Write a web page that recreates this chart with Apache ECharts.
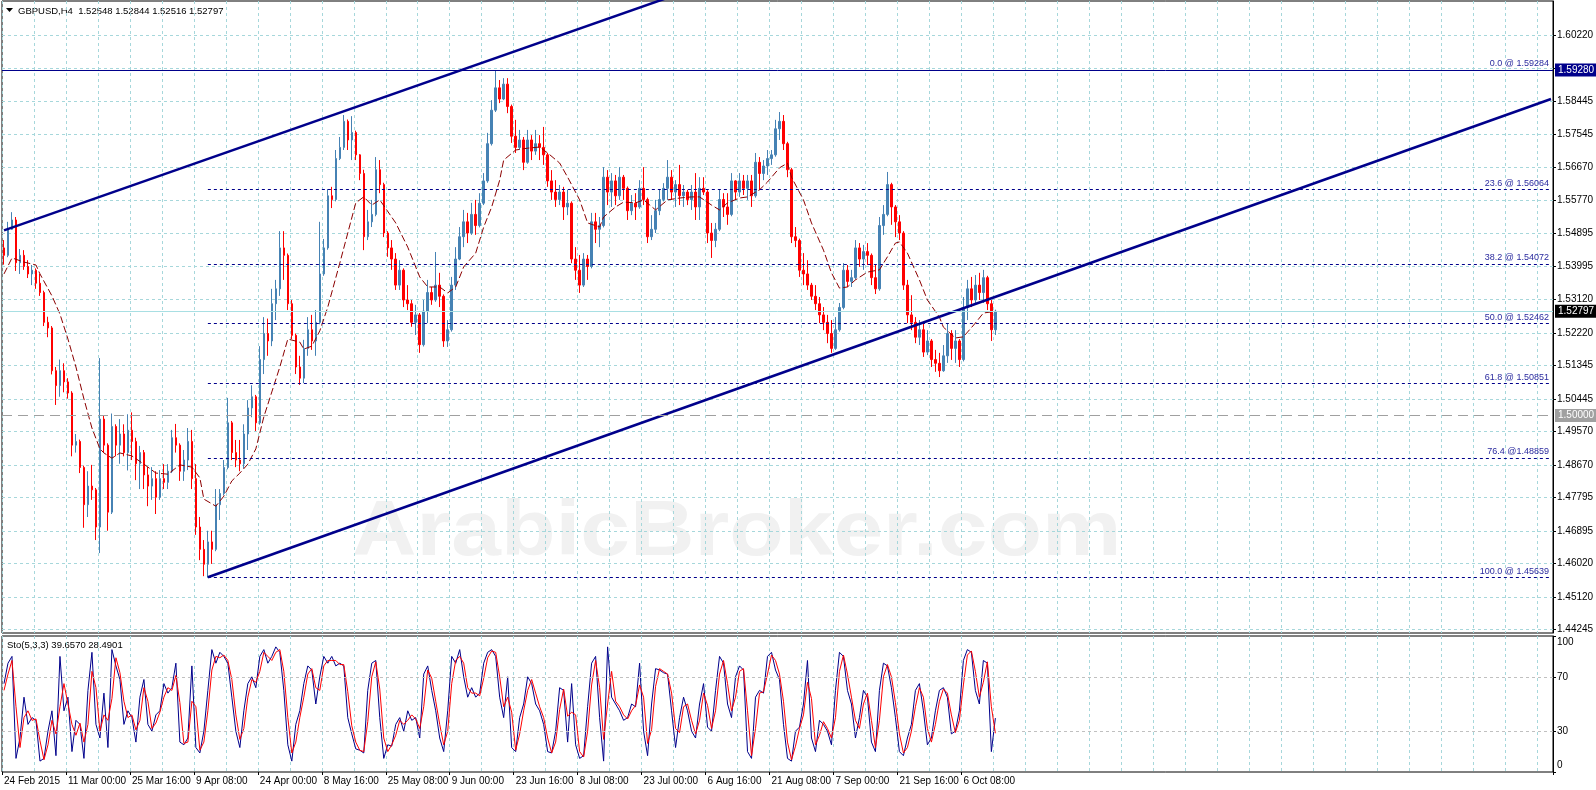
<!DOCTYPE html>
<html><head><meta charset="utf-8">
<script src="https://cdn.jsdelivr.net/npm/echarts@6/dist/echarts.min.js"></script>
<style>html,body{margin:0;padding:0;background:#fff}#c{width:1596px;height:790px}</style>
</head><body><div id="c"></div>
<script>
// ---- axis labels ----
const tickLabels = ['24 Feb 2015','11 Mar 00:00','25 Mar 16:00','9 Apr 08:00','24 Apr 00:00','8 May 16:00','25 May 08:00','9 Jun 00:00','23 Jun 16:00','8 Jul 08:00','23 Jul 00:00','6 Aug 16:00','21 Aug 08:00','7 Sep 00:00','21 Sep 16:00','6 Oct 08:00'];
const priceLabels = [1.60220,1.58445,1.57545,1.56670,1.55770,1.54895,1.53995,1.53120,1.52220,1.51345,1.50445,1.49570,1.48670,1.47795,1.46895,1.46020,1.45120,1.44245];
const priceGridExtra = [1.59320];
const stochLabels = [0,30,70,100];
const stochLevels = [30,70];

// ---- GBPUSD H4 (each point = 4 H4 bars) ----
const opens = [1.5450,1.5430,1.5500,1.5525,1.5410,1.5430,1.5400,1.5380,1.5390,1.5355,
1.5330,1.5250,1.5235,1.5120,1.5080,1.5120,1.5090,1.5060,1.4920,1.4930,
1.4860,1.4760,1.4810,1.4800,1.4700,1.4990,1.4920,1.4740,1.4970,1.4920,
1.4950,1.4900,1.4960,1.4930,1.4870,1.4900,1.4840,1.4810,1.4830,1.4780,
1.4830,1.4820,1.4850,1.4940,1.4920,1.4850,1.4880,1.4930,1.4830,1.4700,
1.4640,1.4600,1.4660,1.4640,1.4760,1.4790,1.4860,1.4980,1.4900,1.4880,
1.4870,1.4950,1.5020,1.5050,1.4980,1.5150,1.5220,1.5200,1.5300,1.5340,
1.5450,1.5430,1.5300,1.5215,1.5130,1.5100,1.5180,1.5230,1.5200,1.5250,
1.5380,1.5450,1.5590,1.5580,1.5690,1.5720,1.5790,1.5740,1.5760,1.5700,
1.5650,1.5480,1.5520,1.5540,1.5660,1.5620,1.5490,1.5450,1.5420,1.5350,
1.5390,1.5310,1.5300,1.5250,1.5270,1.5190,1.5280,1.5330,1.5310,1.5350,
1.5320,1.5200,1.5230,1.5350,1.5420,1.5480,1.5520,1.5490,1.5540,1.5510,
1.5570,1.5630,1.5730,1.5820,1.5880,1.5850,1.5890,1.5830,1.5750,1.5720,
1.5740,1.5680,1.5740,1.5710,1.5730,1.5720,1.5700,1.5630,1.5600,1.5580,
1.5600,1.5560,1.5570,1.5420,1.5390,1.5350,1.5420,1.5400,1.5520,1.5500,
1.5510,1.5640,1.5600,1.5630,1.5590,1.5640,1.5610,1.5550,1.5570,1.5560,
1.5610,1.5580,1.5480,1.5500,1.5550,1.5580,1.5610,1.5640,1.5600,1.5620,
1.5590,1.5600,1.5580,1.5600,1.5560,1.5610,1.5600,1.5490,1.5470,1.5500,
1.5580,1.5560,1.5540,1.5630,1.5600,1.5630,1.5610,1.5630,1.5590,1.5680,
1.5650,1.5670,1.5690,1.5700,1.5770,1.5790,1.5730,1.5660,1.5480,1.5470,
1.5390,1.5380,1.5350,1.5320,1.5300,1.5270,1.5250,1.5220,1.5180,1.5230,
1.5290,1.5390,1.5360,1.5370,1.5450,1.5420,1.5440,1.5430,1.5370,1.5340,
1.5510,1.5540,1.5620,1.5560,1.5520,1.5490,1.5350,1.5270,1.5250,1.5210,
1.5230,1.5170,1.5200,1.5150,1.5140,1.5120,1.5160,1.5220,1.5180,1.5200,
1.5150,1.5290,1.5340,1.5310,1.5350,1.5330,1.5370,1.5300,1.5230];
const highs = [1.5471,1.5520,1.5546,1.5533,1.5447,1.5444,1.5417,1.5404,1.5395,1.5380,
1.5335,1.5265,1.5240,1.5130,1.5150,1.5140,1.5100,1.5065,1.4950,1.4935,
1.4865,1.4850,1.4867,1.4805,1.5154,1.5000,1.4925,1.5005,1.4976,1.4990,
1.4976,1.5003,1.5008,1.4940,1.4918,1.4907,1.4861,1.4861,1.4850,1.4853,
1.4869,1.4869,1.4961,1.4977,1.4925,1.4907,1.4966,1.4961,1.4869,1.4727,
1.4665,1.4690,1.4690,1.4802,1.4802,1.4880,1.5047,1.4985,1.4934,1.4934,
1.4976,1.5041,1.5081,1.5055,1.5186,1.5264,1.5260,1.5340,1.5364,1.5495,
1.5495,1.5435,1.5310,1.5220,1.5160,1.5203,1.5264,1.5270,1.5283,1.5520,
1.5474,1.5608,1.5614,1.5713,1.5748,1.5807,1.5795,1.5804,1.5765,1.5702,
1.5660,1.5552,1.5579,1.5694,1.5686,1.5625,1.5495,1.5471,1.5436,1.5417,
1.5395,1.5350,1.5310,1.5297,1.5275,1.5310,1.5364,1.5345,1.5439,1.5383,
1.5325,1.5256,1.5372,1.5452,1.5506,1.5552,1.5544,1.5571,1.5579,1.5597,
1.5651,1.5759,1.5847,1.5928,1.5901,1.5906,1.5906,1.5835,1.5794,1.5767,
1.5748,1.5767,1.5753,1.5767,1.5753,1.5775,1.5705,1.5659,1.5632,1.5619,
1.5614,1.5606,1.5575,1.5452,1.5431,1.5436,1.5431,1.5544,1.5544,1.5533,
1.5667,1.5659,1.5651,1.5646,1.5667,1.5646,1.5615,1.5592,1.5597,1.5632,
1.5667,1.5585,1.5538,1.5579,1.5606,1.5624,1.5686,1.5659,1.5632,1.5673,
1.5619,1.5606,1.5619,1.5651,1.5640,1.5640,1.5605,1.5517,1.5517,1.5606,
1.5597,1.5597,1.5651,1.5632,1.5651,1.5646,1.5646,1.5646,1.5705,1.5694,
1.5686,1.5713,1.5713,1.5794,1.5815,1.5807,1.5735,1.5665,1.5506,1.5475,
1.5436,1.5417,1.5356,1.5350,1.5318,1.5291,1.5270,1.5256,1.5264,1.5302,
1.5409,1.5404,1.5391,1.5471,1.5463,1.5458,1.5463,1.5435,1.5404,1.5533,
1.5565,1.5654,1.5625,1.5565,1.5538,1.5495,1.5364,1.5323,1.5264,1.5256,
1.5248,1.5229,1.5205,1.5176,1.5168,1.5189,1.5248,1.5229,1.5229,1.5205,
1.5318,1.5364,1.5372,1.5377,1.5383,1.5391,1.5375,1.5310,1.5284];
const lows = [1.5405,1.5425,1.5498,1.5388,1.5380,1.5391,1.5369,1.5350,1.5340,1.5321,
1.5240,1.5210,1.5110,1.5028,1.5050,1.5062,1.5045,1.4890,1.4900,1.4845,
1.4698,1.4727,1.4773,1.4665,1.4630,1.4900,1.4690,1.4735,1.4890,1.4870,
1.4890,1.4852,1.4880,1.4826,1.4802,1.4802,1.4756,1.4773,1.4735,1.4773,
1.4802,1.4802,1.4845,1.4900,1.4824,1.4824,1.4853,1.4802,1.4679,1.4611,
1.4568,1.4564,1.4601,1.4635,1.4719,1.4785,1.4855,1.4880,1.4861,1.4850,
1.4858,1.4907,1.4995,1.4958,1.4975,1.5111,1.5160,1.5186,1.5256,1.5321,
1.5364,1.5283,1.5205,1.5111,1.5082,1.5087,1.5160,1.5176,1.5160,1.5245,
1.5375,1.5445,1.5557,1.5575,1.5686,1.5713,1.5713,1.5686,1.5686,1.5632,
1.5444,1.5471,1.5506,1.5535,1.5597,1.5479,1.5426,1.5391,1.5337,1.5337,
1.5291,1.5283,1.5238,1.5216,1.5168,1.5185,1.5248,1.5297,1.5305,1.5291,
1.5184,1.5184,1.5225,1.5337,1.5417,1.5452,1.5463,1.5485,1.5485,1.5505,
1.5565,1.5625,1.5725,1.5815,1.5839,1.5847,1.5812,1.5732,1.5705,1.5713,
1.5659,1.5676,1.5686,1.5700,1.5686,1.5673,1.5614,1.5579,1.5560,1.5565,
1.5525,1.5538,1.5409,1.5364,1.5329,1.5345,1.5364,1.5395,1.5463,1.5452,
1.5505,1.5565,1.5560,1.5565,1.5579,1.5579,1.5525,1.5538,1.5525,1.5555,
1.5565,1.5463,1.5471,1.5490,1.5538,1.5575,1.5579,1.5579,1.5560,1.5565,
1.5560,1.5565,1.5552,1.5525,1.5525,1.5592,1.5463,1.5423,1.5452,1.5495,
1.5533,1.5512,1.5535,1.5579,1.5587,1.5592,1.5579,1.5560,1.5585,1.5606,
1.5632,1.5646,1.5673,1.5695,1.5740,1.5713,1.5640,1.5463,1.5452,1.5372,
1.5350,1.5337,1.5310,1.5283,1.5248,1.5229,1.5194,1.5168,1.5176,1.5225,
1.5285,1.5345,1.5345,1.5365,1.5399,1.5391,1.5404,1.5350,1.5326,1.5335,
1.5485,1.5535,1.5512,1.5479,1.5471,1.5337,1.5248,1.5229,1.5194,1.5189,
1.5157,1.5162,1.5130,1.5117,1.5103,1.5117,1.5141,1.5149,1.5141,1.5130,
1.5145,1.5256,1.5291,1.5297,1.5310,1.5302,1.5283,1.5200,1.5216];
const closes = [1.5430,1.5500,1.5525,1.5410,1.5430,1.5400,1.5380,1.5390,1.5355,1.5330,
1.5250,1.5235,1.5120,1.5080,1.5120,1.5090,1.5060,1.4920,1.4930,1.4860,
1.4760,1.4810,1.4800,1.4700,1.4990,1.4920,1.4740,1.4970,1.4920,1.4950,
1.4900,1.4960,1.4930,1.4870,1.4900,1.4840,1.4810,1.4830,1.4780,1.4830,
1.4820,1.4850,1.4940,1.4920,1.4850,1.4880,1.4930,1.4830,1.4700,1.4640,
1.4600,1.4660,1.4640,1.4760,1.4790,1.4860,1.4980,1.4900,1.4880,1.4870,
1.4950,1.5020,1.5050,1.4980,1.5150,1.5220,1.5200,1.5300,1.5340,1.5450,
1.5430,1.5300,1.5215,1.5130,1.5100,1.5180,1.5230,1.5200,1.5250,1.5380,
1.5450,1.5590,1.5580,1.5690,1.5720,1.5790,1.5740,1.5760,1.5700,1.5650,
1.5480,1.5520,1.5540,1.5660,1.5620,1.5490,1.5450,1.5420,1.5350,1.5390,
1.5310,1.5300,1.5250,1.5270,1.5190,1.5280,1.5330,1.5310,1.5350,1.5320,
1.5200,1.5230,1.5350,1.5420,1.5480,1.5520,1.5490,1.5540,1.5510,1.5570,
1.5630,1.5730,1.5820,1.5880,1.5850,1.5890,1.5830,1.5750,1.5720,1.5740,
1.5680,1.5740,1.5710,1.5730,1.5720,1.5700,1.5630,1.5600,1.5580,1.5600,
1.5560,1.5570,1.5420,1.5390,1.5350,1.5420,1.5400,1.5520,1.5500,1.5510,
1.5640,1.5600,1.5630,1.5590,1.5640,1.5610,1.5550,1.5570,1.5560,1.5610,
1.5580,1.5480,1.5500,1.5550,1.5580,1.5610,1.5640,1.5600,1.5620,1.5590,
1.5600,1.5580,1.5600,1.5560,1.5610,1.5600,1.5490,1.5470,1.5500,1.5580,
1.5560,1.5540,1.5630,1.5600,1.5630,1.5610,1.5630,1.5590,1.5680,1.5650,
1.5670,1.5690,1.5700,1.5770,1.5790,1.5730,1.5660,1.5480,1.5470,1.5390,
1.5380,1.5350,1.5320,1.5300,1.5270,1.5250,1.5220,1.5180,1.5230,1.5290,
1.5390,1.5360,1.5370,1.5450,1.5420,1.5440,1.5430,1.5370,1.5340,1.5510,
1.5540,1.5620,1.5560,1.5520,1.5490,1.5350,1.5270,1.5250,1.5210,1.5230,
1.5170,1.5200,1.5150,1.5140,1.5120,1.5160,1.5220,1.5180,1.5200,1.5150,
1.5290,1.5340,1.5310,1.5350,1.5330,1.5370,1.5300,1.5230,1.52797];

// moving average readings [pointIndex, price]
const maPoints = [[0,1.5380],[2,1.5423],[5,1.5412],[8,1.5404],[9,1.5380],[12,1.5321],[14,1.5272],[16,1.5205],[18,1.5130],[20,1.5044],[22,1.4966],[24,1.4910],[25,1.4899],[27,1.4885],[29,1.4899],[32,1.4891],[35,1.4869],[38,1.4845],[41,1.4842],[44,1.4867],[47,1.4861],[49,1.4832],[50,1.4775],[53,1.4756],[55,1.4783],[57,1.4824],[59,1.4845],[61,1.4869],[63,1.4910],[65,1.4996],[67,1.5063],[69,1.5130],[71,1.5205],[74,1.5197],[75,1.5178],[77,1.5186],[79,1.5227],[81,1.5291],[84,1.5409],[88,1.5571],[90,1.5587],[92,1.5565],[94,1.5579],[98,1.5517],[101,1.5452],[104,1.5372],[106,1.5345],[109,1.5345],[111,1.5329],[113,1.5345],[115,1.5399],[118,1.5436],[120,1.5506],[122,1.5560],[124,1.5632],[125,1.5686],[128,1.5713],[131,1.5718],[134,1.5721],[136,1.5705],[139,1.5678],[141,1.5640],[144,1.5579],[146,1.5517],[149,1.5506],[150,1.5533],[153,1.5560],[155,1.5573],[158,1.5571],[160,1.5579],[163,1.5552],[166,1.5579],[169,1.5584],[172,1.5587],[174,1.5587],[177,1.5565],[179,1.5552],[181,1.5571],[184,1.5584],[186,1.5587],[189,1.5606],[191,1.5627],[194,1.5665],[196,1.5678],[197,1.5640],[200,1.5579],[202,1.5517],[205,1.5444],[207,1.5383],[209,1.5342],[211,1.5345],[213,1.5364],[216,1.5385],[219,1.5391],[221,1.5426],[223,1.5463],[224,1.5466],[226,1.5436],[229,1.5364],[231,1.5310],[234,1.5264],[235,1.5237],[238,1.5208],[240,1.5211],[243,1.5248],[245,1.5275],[247,1.5278]];

// trend lines [pointIndex, price]
const upperChannel = [[0,1.5497],[200,1.6250]];
const lowerChannel = [[51,1.4565],[387,1.5850]];

// fibonacci retracement
const fibPrices = [1.59284,1.56064,1.54072,1.52462,1.50851,1.48859,1.45639];
const fibLabels = ['0.0 @ 1.59284','23.6 @ 1.56064','38.2 @ 1.54072','50.0 @ 1.52462','61.8 @ 1.50851','76.4 @1.48859','100.0 @ 1.45639'];
const hLinePrice = 1.59280;
const roundPrice = 1.50000;
const bidPrice = 1.52797;

// stochastic (5,3,3)
const stochMain = [65,80,85,10,25,55,35,40,38,8,
10,30,45,12,85,45,55,15,38,35,
10,60,88,35,25,58,18,90,78,68,
35,45,40,22,55,68,35,30,42,45,
65,58,62,80,22,20,25,78,18,14,
30,60,90,80,88,85,80,55,30,18,
45,65,70,62,85,90,80,85,92,88,
60,20,8,35,45,65,78,75,50,70,
85,80,85,78,80,78,40,28,17,16,
14,60,80,82,40,10,20,19,35,40,
30,45,38,40,25,72,78,60,45,25,
15,45,85,80,90,70,55,62,55,58,
80,88,90,85,55,40,70,18,15,40,
50,70,65,50,45,35,15,14,30,62,
60,22,65,20,10,12,48,80,85,40,
8,92,55,50,45,38,40,50,48,80,
30,12,50,76,75,73,72,45,18,40,
55,45,30,25,50,65,33,30,60,85,
80,50,40,70,78,75,15,10,55,60,
58,85,88,75,68,35,10,8,30,33,
50,82,25,15,38,35,30,20,60,88,
85,60,50,25,40,60,55,22,15,60,
80,78,62,40,15,12,25,35,60,65,
45,20,25,45,60,62,55,28,30,45,
82,90,88,60,50,82,80,15,39.657];
const stochSignal = [60,72,82,48,18,40,45,38,39,23,
9,20,38,28,48,65,50,35,27,36,
22,35,74,62,30,42,38,54,84,73,
52,40,42,31,38,62,52,32,36,44,
55,62,60,71,51,21,22,52,48,16,
22,45,75,85,84,86,82,68,42,24,
32,55,68,66,74,88,85,82,88,90,
74,40,14,22,40,55,72,76,62,60,
78,82,82,82,79,79,59,34,22,16,
15,37,70,81,61,25,15,20,27,38,
35,38,42,39,32,48,75,69,52,35,
20,30,65,82,85,80,62,58,58,56,
69,84,89,88,70,48,55,44,16,28,
45,60,68,58,48,40,25,14,22,46,
61,41,44,42,15,11,30,64,82,62,
24,50,74,52,48,42,39,45,49,64,
55,21,31,63,76,74,72,58,32,29,
48,50,38,28,38,58,49,32,45,72,
82,65,45,55,74,76,45,12,32,58,
59,72,86,82,72,52,22,9,19,32,
42,66,54,20,27,37,32,25,40,74,
86,72,55,38,32,50,58,38,18,38,
70,79,70,51,28,14,18,30,48,62,
55,32,22,35,52,61,58,42,29,38,
64,86,89,74,55,66,81,48,28.4901];

const FONT = '"Liberation Sans", Arial, sans-serif';
const GRID_C = '#a6d7db';
const NAVY = '#00008b';
const cats = Array.from({length: 388}, (_, i) => String(i));
const candleData = opens.map((o, i) => [o, closes[i], lows[i], highs[i]]);
const labelIdx = (i) => i % 16 === 0 && i / 16 < tickLabels.length;

const fibMark = fibPrices.map((p, i) => [
  {coord: [51, p], lineStyle: {color: NAVY, type: [3, 3], width: 1},
   label: {show: true, position: 'insideEndTop', formatter: fibLabels[i], color: '#2a2a9e', fontSize: 9, fontFamily: FONT, distance: 2}},
  {coord: [387, p]}
]);
const boxLabel = (txt, bg) => ({show: true, position: 'end', formatter: txt, color: '#fff', backgroundColor: bg, padding: [2, 4, 1, 3], fontSize: 10, fontFamily: FONT, distance: 2});

const chart = echarts.init(document.getElementById('c'), null, {renderer: 'canvas'});
chart.setOption({
  animation: false,
  backgroundColor: '#ffffff',
  textStyle: {fontFamily: FONT},
  grid: [
    {left: 2, top: 1, width: 1551, height: 632, show: true, borderColor: '#000', borderWidth: 1, outerBoundsMode: 'none', containLabel: false},
    {left: 2, top: 636, width: 1551, height: 136, show: true, borderColor: '#000', borderWidth: 1, outerBoundsMode: 'none', containLabel: false}
  ],
  xAxis: [
    {type: 'category', gridIndex: 0, data: cats, boundaryGap: true,
     axisLine: {show: false}, axisTick: {show: false}, axisLabel: {show: false},
     splitLine: {show: true, interval: (i) => i % 8 === 0, lineStyle: {color: GRID_C, type: [3, 3], width: 1}}},
    {type: 'category', gridIndex: 1, data: cats, boundaryGap: true,
     axisLine: {show: false},
     axisTick: {show: true, interval: labelIdx, length: 3, lineStyle: {color: '#000'}},
     axisLabel: {show: true, interval: labelIdx, formatter: (v, i) => tickLabels[i / 16] || '', align: 'left', color: '#000', fontSize: 10, margin: 4, fontFamily: FONT},
     splitLine: {show: true, interval: (i) => i % 8 === 0, lineStyle: {color: GRID_C, type: [3, 3], width: 1}}}
  ],
  yAxis: [
    {type: 'value', gridIndex: 0, position: 'right', min: 1.441529, max: 1.611335,
     axisLine: {show: true, lineStyle: {color: '#000'}},
     axisTick: {show: true, customValues: priceLabels.concat(priceGridExtra), length: 3, lineStyle: {color: '#000'}},
     axisLabel: {show: true, customValues: priceLabels, formatter: (v) => Number(v).toFixed(5), color: '#000', fontSize: 10, margin: 4, fontFamily: FONT},
     splitLine: {show: true, lineStyle: {color: GRID_C, type: [3, 3], width: 1}}},
    {type: 'value', gridIndex: 1, position: 'right', min: 0, max: 100,
     axisLine: {show: true, lineStyle: {color: '#000'}},
     axisTick: {show: true, customValues: stochLabels, length: 3, lineStyle: {color: '#000'}},
     axisLabel: {show: true, customValues: stochLabels, margin: 4,
       formatter: (v) => v === 100 ? '{t|100}' : (v === 0 ? '{b|0}' : '{m|' + v + '}'),
       rich: {t: {padding: [12, 0, 0, 0], fontSize: 10, color: '#000', fontFamily: FONT},
              b: {padding: [0, 0, 14, 0], fontSize: 10, color: '#000', fontFamily: FONT},
              m: {fontSize: 10, color: '#000', fontFamily: FONT}}},
     splitLine: {show: false}}
  ],
  graphic: [
    {type: 'text', z: -10, silent: true, x: 352, y: 533, scaleX: 1.145,
     style: {text: 'ArabicBroker.com', font: 'bold 78px "Liberation Sans", Arial, sans-serif', fill: '#f1f1f1', verticalAlign: 'middle', align: 'left'}},
    {type: 'polygon', silent: true, shape: {points: [[6, 8], [13, 8], [9.5, 12]]}, style: {fill: '#000'}},
    {type: 'text', silent: true, x: 18, y: 11, style: {text: 'GBPUSD,H4  1.52548 1.52844 1.52516 1.52797', font: '9.5px "Liberation Sans", Arial, sans-serif', fill: '#000', verticalAlign: 'middle'}},
    {type: 'text', silent: true, x: 7, y: 645, style: {text: 'Sto(5,3,3) 39.6570 28.4901', font: '9.5px "Liberation Sans", Arial, sans-serif', fill: '#000', verticalAlign: 'middle'}}
  ],
  series: [
    {type: 'candlestick', name: 'GBPUSD', xAxisIndex: 0, yAxisIndex: 0, data: candleData, barWidth: 2, silent: true, z: 2,
     itemStyle: {color: '#4682b4', color0: '#ff0000', borderColor: '#4682b4', borderColor0: '#ff0000', borderWidth: 1},
     markLine: {silent: true, symbol: ['none', 'none'], animation: false, z: 5, precision: 5,
       data: fibMark.concat([
         {yAxis: hLinePrice, lineStyle: {color: NAVY, type: 'solid', width: 1}, label: boxLabel('1.59280', NAVY)},
         {yAxis: roundPrice, lineStyle: {color: '#a0a0a0', type: [10, 6], width: 1}, label: boxLabel('1.50000', '#a0a0a0')},
         {yAxis: bidPrice, lineStyle: {color: '#a8dfe3', type: 'solid', width: 1}, label: boxLabel('1.52797', '#000')}
       ])}},
    {type: 'line', name: 'MA', xAxisIndex: 0, yAxisIndex: 0, data: maPoints, symbol: 'none', silent: true, z: 3,
     lineStyle: {color: '#8b0000', width: 1, type: [7, 3]}},
    {type: 'line', name: 'upper', xAxisIndex: 0, yAxisIndex: 0, data: upperChannel, symbol: 'none', silent: true, z: 4, clip: true,
     lineStyle: {color: NAVY, width: 2.5}},
    {type: 'line', name: 'lower', xAxisIndex: 0, yAxisIndex: 0, data: lowerChannel, symbol: 'none', silent: true, z: 4, clip: true,
     lineStyle: {color: NAVY, width: 2.5}},
    {type: 'line', name: 'Sto main', xAxisIndex: 1, yAxisIndex: 1, data: stochMain, symbol: 'none', silent: true, z: 2,
     lineStyle: {color: '#00008b', width: 1},
     markLine: {silent: true, symbol: ['none', 'none'], label: {show: false},
       lineStyle: {color: '#c0c0c0', type: [3, 3], width: 1},
       data: stochLevels.map(v => ({yAxis: v}))}},
    {type: 'line', name: 'Sto signal', xAxisIndex: 1, yAxisIndex: 1, data: stochSignal, symbol: 'none', silent: true, z: 3,
     lineStyle: {color: '#ff0000', width: 1}}
  ]
});
</script>
</body></html>
